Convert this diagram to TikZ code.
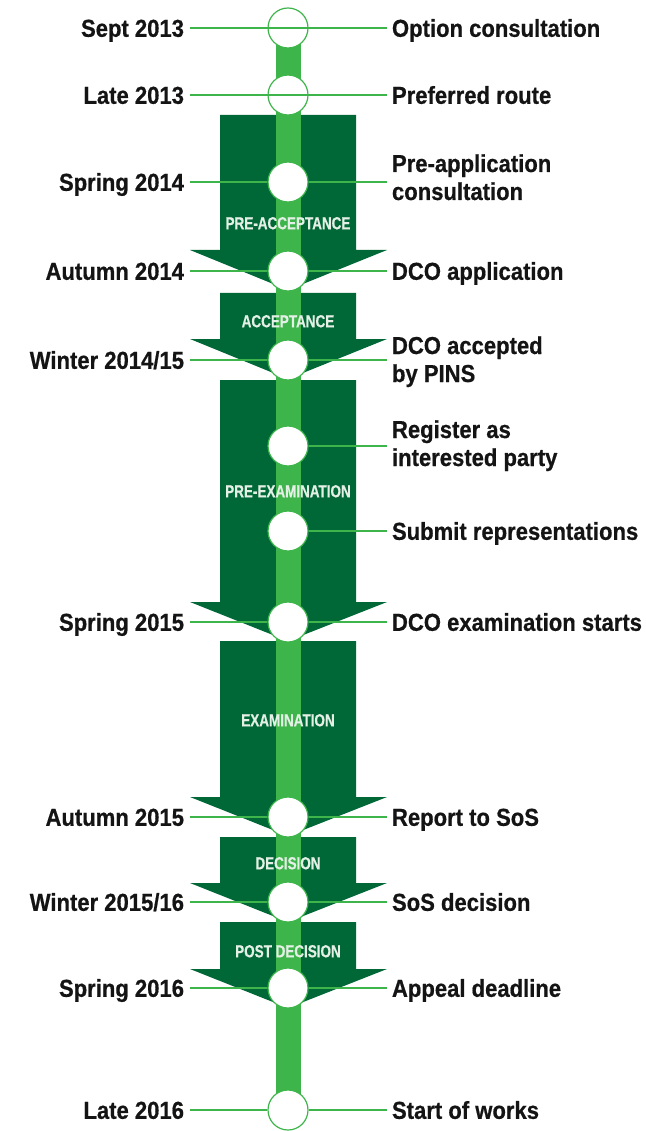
\documentclass[tikz,border=0pt]{standalone}
\usepackage{fontspec}
\setmainfont{Liberation Sans}[FakeStretch=0.9, BoldFeatures={FakeBold=0.6}]
\newfontfamily\phasefont{Liberation Sans}[FakeStretch=0.77, BoldFeatures={FakeBold=0.5}]
\definecolor{darkgreen}{RGB}{0,103,55}
\definecolor{lightgreen}{RGB}{61,181,74}
\definecolor{phasetext}{RGB}{228,240,230}
\definecolor{ink}{RGB}{20,20,20}

\begin{document}
\begin{tikzpicture}[x=1pt,y=-1pt,
  stage/.style={circle, minimum size=40pt, inner sep=0pt, fill=white, draw=lightgreen, line width=1.2pt},
  labelfont/.style={font=\bfseries\fontsize{24.5}{28}\selectfont, text=ink},
  datelbl/.style={labelfont, anchor=east, inner sep=0pt, outer xsep=5.5pt, outer ysep=0pt, text height=17.6pt, text depth=0pt},
  eventlbl/.style={datelbl, anchor=west},
  eventtwo/.style={labelfont, anchor=north west, align=left, inner sep=0pt, outer xsep=5.5pt, outer ysep=0pt},
  phaselbl/.style={font=\phasefont\bfseries\fontsize{17.5}{20}\selectfont, text=phasetext, inner sep=0pt, text height=12.6pt, text depth=0pt},
  link/.style={draw=lightgreen, line width=1.4pt},
  phase/.style={fill=darkgreen},
  track/.style={draw=lightgreen, line width=25pt}
]
\useasboundingbox (0,0) rectangle (645,1131);

% stage positions along the track
\foreach \n/\y in {1/28, 2/95, 3/182, 4/271, 5/360, 6/446, 7/531, 8/622, 9/817, 10/902, 11/988, 12/1110}
  \coordinate (s\n) at (288,\y);

% phase arrows
\foreach \t/\h/\p in {115/250/290, 293/339/379, 380/602/641, 641/797/836, 837/883/922, 922/969/1008}
  \fill[phase] (220,\t) -- (356,\t) -- (356,\h) -- (387,\h) -- (288,\p) -- (190,\h) -- (220,\h) -- cycle;

% track
\draw[track] (s1) -- (s12);

% phase names
\node[phaselbl] (p1) at (288,223) {PRE-ACCEPTANCE};
\node[phaselbl] (p2) at (288,321) {ACCEPTANCE};
\node[phaselbl] (p3) at (288,491) {PRE-EXAMINATION};
\node[phaselbl] (p4) at (288,720) {EXAMINATION};
\node[phaselbl] (p5) at (288,863) {DECISION};
\node[phaselbl] (p6) at (288,951) {POST DECISION};

% stages
\foreach \n in {1,...,12}
  \node[stage] (c\n) at (s\n) {};

% dates
\node[datelbl] (l1) at (189.5,28) {Sept 2013};
\node[datelbl] (l2) at (189.5,95) {Late 2013};
\node[datelbl] (l3) at (189.5,182) {Spring 2014};
\node[datelbl] (l4) at (189.5,271) {Autumn 2014};
\node[datelbl] (l5) at (189.5,360) {Winter 2014/15};
\node[datelbl] (l8) at (189.5,622) {Spring 2015};
\node[datelbl] (l9) at (189.5,817) {Autumn 2015};
\node[datelbl] (l10) at (189.5,902) {Winter 2015/16};
\node[datelbl] (l11) at (189.5,988) {Spring 2016};
\node[datelbl] (l12) at (189.5,1110) {Late 2016};

% events
\node[eventlbl] (r1) at (386.5,28) {Option consultation};
\node[eventlbl] (r2) at (386.5,95) {Preferred route};
\node[eventtwo] (r3) at (386.5,152.4) {\strut Pre-application\\consultation};
\node[eventlbl] (r4) at (386.5,271) {DCO application};
\node[eventtwo] (r5) at (386.5,334.4) {\strut DCO accepted\\by PINS};
\node[eventtwo] (r6) at (386.5,418.4) {\strut Register as\\interested party};
\node[eventlbl] (r7) at (386.5,531) {Submit representations};
\node[eventlbl] (r8) at (386.5,622) {DCO examination starts};
\node[eventlbl] (r9) at (386.5,817) {Report to SoS};
\node[eventlbl] (r10) at (386.5,902) {SoS decision};
\node[eventlbl] (r11) at (386.5,988) {Appeal deadline};
\node[eventlbl] (r12) at (386.5,1110) {Start of works};

% connectors
\draw[link] (l1) -- (r1);
\draw[link] (l2) -- (r2);
\foreach \n in {3,4,5,8,9,10,11,12}
  \draw[link] (l\n) -- (c\n);
\foreach \n in {1,2,4,7,8,9,10,11,12}
  \draw[link] (c\n) -- (r\n);
\foreach \n in {3,5,6}
  \draw[link] (c\n) -- (c\n -| r\n.west);
\end{tikzpicture}
\end{document}
